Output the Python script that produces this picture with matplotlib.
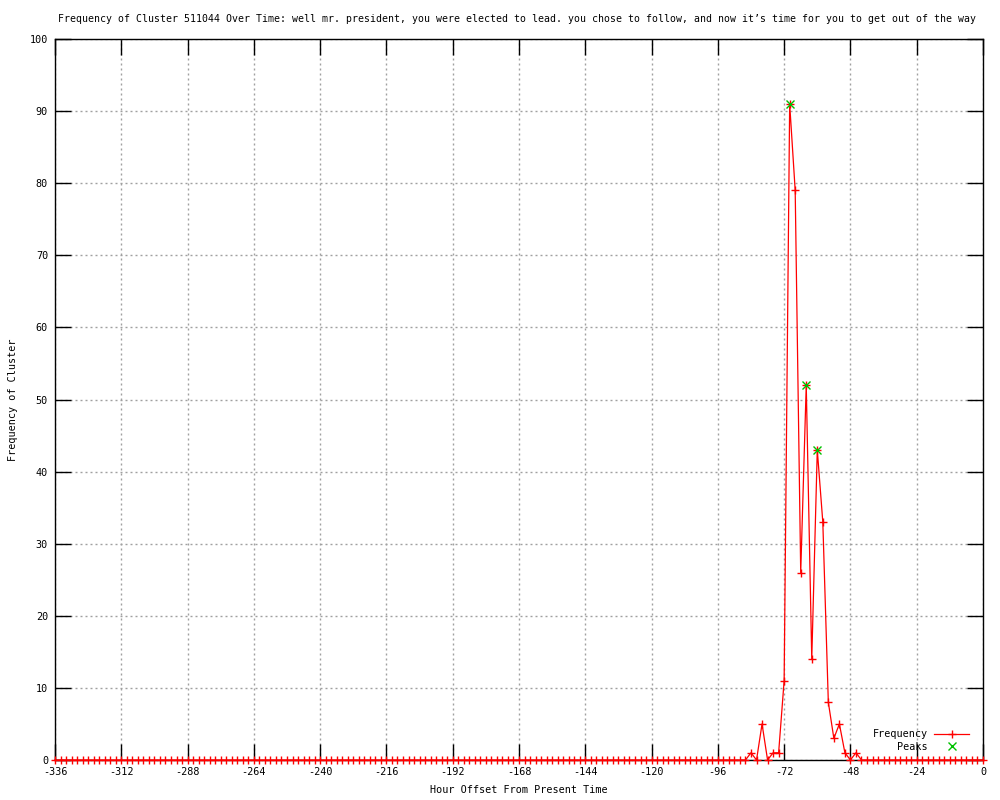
import matplotlib
matplotlib.use("Agg")
import matplotlib.pyplot as plt

title = ("Frequency of Cluster 511044 Over Time: well mr. president, you were elected to lead. "
         "you chose to follow, and now it\u2019s time for you to get out of the way")
xlabel = "Hour Offset From Present Time"
ylabel = "Frequency of Cluster"

hours = list(range(-336, 1, 2))
freq = [0] * 125 + [0, 1, 0, 5, 0, 1, 1, 11, 91, 79, 26, 52, 14, 43, 33, 8, 3, 5, 1, 0, 1] + [0] * 23
peak_hours = [-70, -64, -60]
peak_vals = [91, 52, 43]

xticks = list(range(-336, 1, 24))
yticks = list(range(0, 101, 10))

plt.rcParams['font.family'] = ['DejaVu Sans Mono']
plt.rcParams['axes.unicode_minus'] = False
fs = 7.25

fig = plt.figure(figsize=(10, 8), dpi=100)
ax = fig.add_axes([0.055, 0.05, 0.928, 0.90125])

ax.plot(hours, freq, color='#ff0000', lw=0.9, marker='+', ms=6, mew=1.0,
        label='Frequency', zorder=3, clip_on=False)
ax.plot(peak_hours, peak_vals, linestyle='none', color='#00c000', marker='x', ms=5.5,
        mew=1.0, label='Peaks', zorder=4)

ax.set_xlim(-336, 0)
ax.set_ylim(0, 100)
ax.set_xticks(xticks)
ax.set_yticks(yticks)
ax.grid(True, color='#a0a0a0', linestyle=(0, (1.44, 2.16)), linewidth=1.0)
ax.set_axisbelow(True)
ax.tick_params(direction='in', length=11.5, width=1.0, top=True, right=True,
               labelsize=fs, pad=5, colors='black')
for s in ax.spines.values():
    s.set_linewidth(1.0)

ax.set_xlabel(xlabel, fontsize=fs, labelpad=6)
ax.set_ylabel(ylabel, fontsize=fs)
ax.yaxis.set_label_coords(-0.040, 0.5)
fig.text(0.5175, 1 - 19 / 800, title, fontsize=7.1, ha='center', va='center')

leg = ax.legend(loc='lower right', frameon=False, markerfirst=False, fontsize=fs,
                handlelength=3.5, handletextpad=0.6, labelspacing=0.25,
                bbox_to_anchor=(0.995, -0.001))
for t in leg.get_texts():
    t.set_ha('right')

fig.savefig('out.png', dpi=100)
